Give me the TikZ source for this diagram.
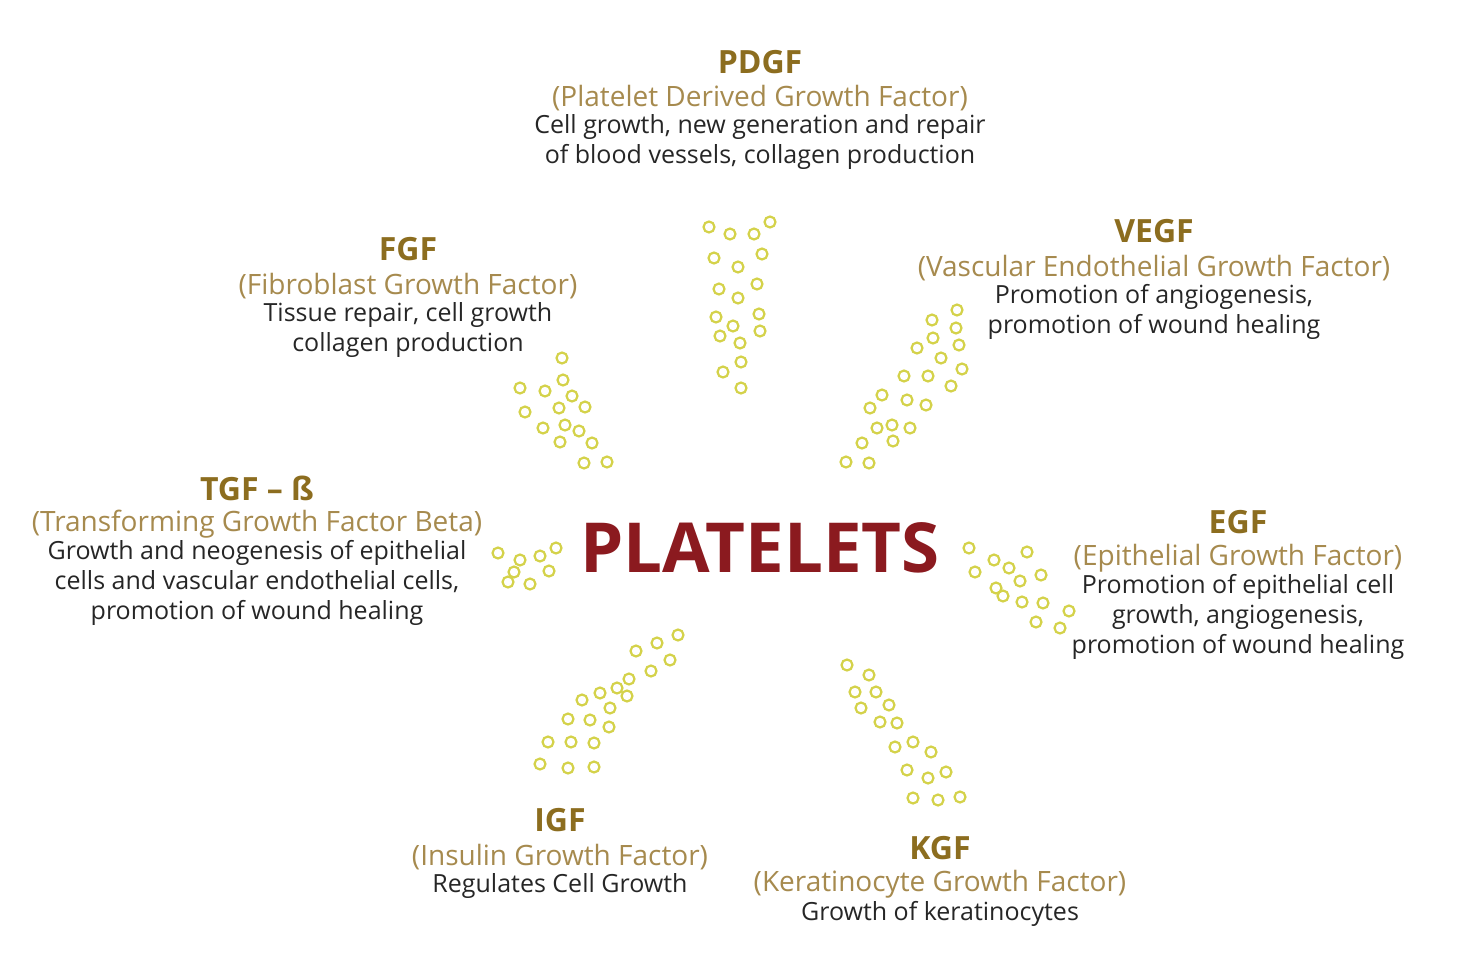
\documentclass[tikz,border=0pt]{standalone}
\usepackage{fontspec}
\setmainfont{Open Sans}
\definecolor{gold}{HTML}{8C6D1F}
\definecolor{tan}{HTML}{A68A4E}
\definecolor{wine}{HTML}{8B1A1F}
\definecolor{dotc}{HTML}{D4D24A}
\begin{document}
\begin{tikzpicture}[x=1pt,y=-1pt,
  title/.style={text=gold,font=\bfseries\fontsize{32}{34}\selectfont,inner sep=0pt},
  sub/.style={text=tan,font=\fontsize{28}{30}\selectfont,inner sep=0pt},
  desc/.style={text=black!85,font=\fontsize{25}{30}\selectfont,align=center,inner sep=0pt,anchor=north},
  dot/.style={draw=dotc,line width=2.2pt,fill=none}]

    \useasboundingbox (0,0) rectangle (1464,964);

    \node[text=wine,font=\bfseries\fontsize{69}{70}\selectfont] (plt) at (760,548) {PLATELETS};

    % PDGF
    \node[title] (pdgf) at (760,62) {PDGF};
    \node[sub] (pdgfs) at (760,98) {(Platelet Derived Growth Factor)};
    \node[desc] (pdgfd) at (760,114) {Cell growth, new generation and repair\\of blood vessels, collagen production};

    % FGF
    \node[title] (fgf) at (408,249) {FGF};
    \node[sub] (fgfs) at (408,286) {(Fibroblast Growth Factor)};
    \node[desc] (fgfd) at (408,302) {Tissue repair, cell growth\\collagen production};

    % VEGF
    \node[title] (vegf) at (1154,231) {VEGF};
    \node[sub] (vegfs) at (1154,268) {(Vascular Endothelial Growth Factor)};
    \node[desc] (vegfd) at (1154,284) {Promotion of angiogenesis,\\promotion of wound healing};

    % TGF
    \node[title] (tgf) at (257,488) {TGF – ß};
    \node[sub] (tgfs) at (257,524) {(Transforming Growth Factor Beta)};
    \node[desc] (tgfd) at (257,540) {Growth and neogenesis of epithelial\\cells and vascular endothelial cells,\\promotion of wound healing};

    % EGF
    \node[title] (egf) at (1238,522) {EGF};
    \node[sub] (egfs) at (1238,558) {(Epithelial Growth Factor)};
    \node[desc] (egfd) at (1238,574) {Promotion of epithelial cell\\growth, angiogenesis,\\promotion of wound healing};

    % IGF
    \node[title] (igf) at (560,820) {IGF};
    \node[sub] (igfs) at (560,857) {(Insulin Growth Factor)};
    \node[desc] (igfd) at (560,873) {Regulates Cell Growth};

    % KGF
    \node[title] (kgf) at (940,848) {KGF};
    \node[sub] (kgfs) at (940,884) {(Keratinocyte Growth Factor)};
    \node[desc] (kgfd) at (940,901) {Growth of keratinocytes};

    % platelet dots
    \foreach \p in {(709,227),(730,234),(754,234),(770,222),(714,258),(738,267),(762,254),(719,289),(738,298),(757,284),(716,317),(733,326),(759,314),(720,336),(740,343),(760,331),(723,372),(741,362),(741,388),
      (957,310),(932,320),(956,328),(933,338),(917,348),(959,345),(941,358),(904,376),(928,376),(962,369),(951,386),(882,395),(907,400),(926,405),(870,408),(877,428),(892,425),(910,428),(862,443),(893,441),(846,462),(869,463),
      (562,358),(520,388),(545,391),(563,380),(572,396),(525,412),(559,408),(585,407),(543,428),(565,425),(579,431),(560,442),(592,443),(584,463),(607,462),
      (498,553),(520,560),(556,548),(540,556),(514,572),(508,582),(530,584),(549,571),
      (969,548),(994,560),(1027,552),(975,572),(1009,568),(1041,575),(996,588),(1020,581),(1003,596),(1022,602),(1043,603),(1069,611),(1036,622),(1060,628),
      (678,635),(657,643),(636,651),(670,660),(651,671),(629,679),(617,688),(600,693),(582,700),(610,708),(627,696),(568,719),(590,720),(609,727),(548,742),(571,742),(594,743),(540,764),(568,768),(594,767),
      (847,665),(869,675),(855,692),(876,692),(861,708),(889,705),(880,722),(897,723),(895,747),(913,742),(931,752),(907,770),(928,778),(946,772),(913,798),(938,800),(960,797)}
      \draw[dot] \p circle (5.5);

\end{tikzpicture}
\end{document}
